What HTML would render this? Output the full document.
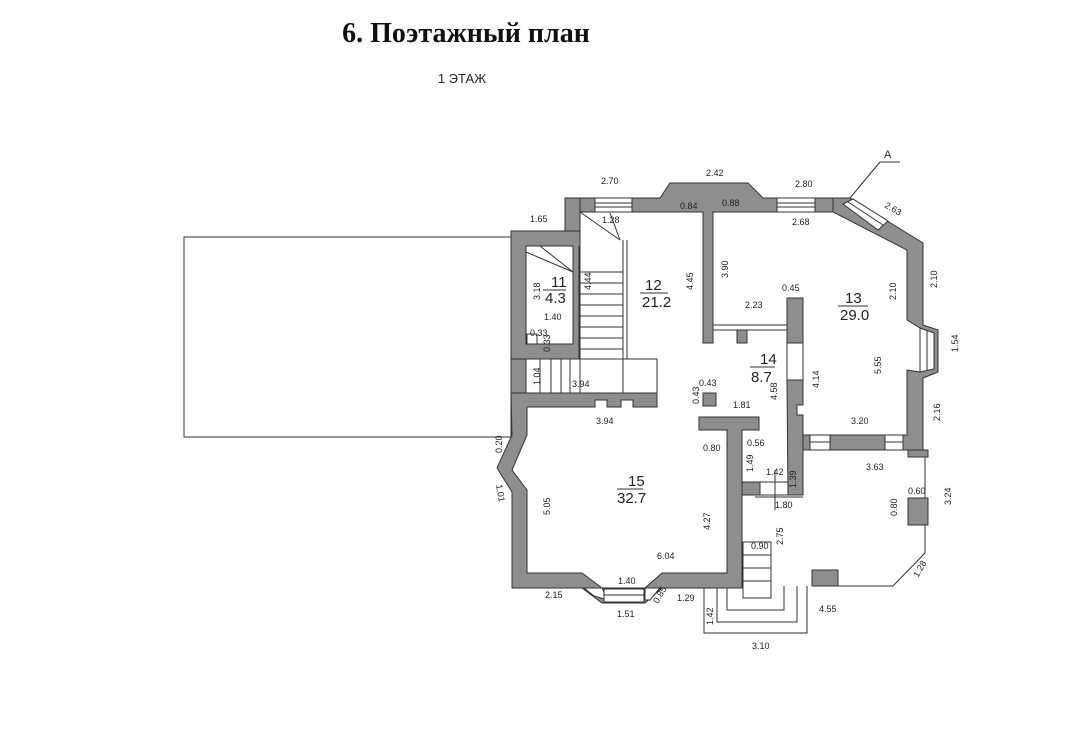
<!DOCTYPE html>
<html><head><meta charset="utf-8"><style>
html,body{margin:0;padding:0;background:#fff;}
svg{display:block}
.w{fill:#8e8e8e;stroke:#333;stroke-width:1}
.l{fill:none;stroke:#333;stroke-width:1}
.wh{fill:#fff;stroke:#333;stroke-width:1}
text{font-family:"Liberation Sans",sans-serif;font-size:9px;fill:#222}
.big{font-size:15px}
</style></head><body>
<svg width="1080" height="741" viewBox="0 0 1080 741">
<text x="466" y="42" text-anchor="middle" style="font-family:'Liberation Serif',serif;font-weight:bold;font-size:28px;fill:#111">6. Поэтажный план</text>
<text x="462" y="83" text-anchor="middle" style="font-size:13px;fill:#222">1 ЭТАЖ</text>

<!-- left big rectangle -->
<rect x="184" y="237" width="327" height="200" class="l"/>

<!-- room 11 walls -->
<path class="w" d="M511 231 H580 V359 H511 Z M526 246 V344 H573 V246 Z" fill-rule="evenodd"/>
<path class="w" d="M565 198 H580 V231 H565 Z"/>
<rect class="wh" x="527" y="334" width="10" height="10"/>
<rect class="w" x="511" y="359" width="15" height="34"/>
<!-- top wall of 12 -->
<path class="w" d="M565 198 H660 L670 183 H748 L763 198 H833 V212 H713 V343 H703 V212 H580 V198 Z"/>
<rect class="wh" x="595" y="198" width="37" height="14"/>
<line class="l" x1="595" y1="203" x2="632" y2="203"/><line class="l" x1="595" y1="207" x2="632" y2="207"/>
<rect class="wh" x="777" y="198" width="38" height="14"/>
<line class="l" x1="777" y1="203" x2="815" y2="203"/><line class="l" x1="777" y1="207" x2="815" y2="207"/>
<!-- diagonal + right wall of 13 -->
<path class="w" d="M833 198 H850 L923 243 V325 L938 330 V372 L923 378 V450 H803 V435 H907 V370 L920 372 V328 L907 320 V250 L833 212 Z"/>
<polygon class="wh" points="843,204 853,199 888,221 878,230"/>
<line class="l" x1="848" y1="202" x2="883" y2="225"/>
<polygon class="wh" points="920,328 934,333 934,369 920,372"/>
<line class="l" x1="927" y1="331" x2="927" y2="370"/>
<rect class="wh" x="810" y="435" width="20" height="15"/><line class="l" x1="810" y1="442" x2="830" y2="442"/>
<rect class="wh" x="885" y="435" width="18" height="15"/><line class="l" x1="885" y1="442" x2="903" y2="442"/>
<rect class="w" x="908" y="450" width="20" height="7"/>
<!-- partitions 13/14 -->
<rect class="w" x="787" y="298" width="16" height="45"/>
<rect class="wh" x="787" y="343" width="16" height="37"/>
<path class="w" d="M787 380 H803 V405 H797 V415 H803 V495 H788 Z"/>
<rect class="l" x="713" y="325" width="74" height="5"/>
<rect class="w" x="737" y="330" width="10" height="13"/>
<!-- stairs 12 -->
<line class="l" x1="579" y1="246" x2="579" y2="359"/>
<line class="l" x1="627" y1="240" x2="627" y2="359"/>
<line class="l" x1="623" y1="240" x2="623" y2="359"/>
<line class="l" x1="580" y1="212" x2="620" y2="240"/>
<line class="l" x1="610" y1="213" x2="620" y2="240"/>
<line class="l" x1="526" y1="252" x2="573" y2="272"/>
<line class="l" x1="540" y1="246" x2="573" y2="272"/>
<g class="l">
<line x1="580" y1="272" x2="623" y2="272"/><line x1="580" y1="283" x2="623" y2="283"/><line x1="580" y1="294" x2="623" y2="294"/><line x1="580" y1="305" x2="623" y2="305"/><line x1="580" y1="316" x2="623" y2="316"/><line x1="580" y1="327" x2="623" y2="327"/><line x1="580" y1="338" x2="623" y2="338"/><line x1="580" y1="349" x2="623" y2="349"/>
</g>
<!-- landing -->
<rect class="l" x="511" y="359" width="146" height="34"/>
<g class="l"><line x1="526" y1="359" x2="526" y2="393"/><line x1="540" y1="359" x2="540" y2="393"/><line x1="551" y1="359" x2="551" y2="393"/><line x1="561" y1="359" x2="561" y2="393"/><line x1="570" y1="359" x2="570" y2="393"/><line x1="580" y1="359" x2="580" y2="393"/><line x1="623" y1="359" x2="623" y2="393"/></g>
<!-- room 15 -->
<path class="w" d="M511 393 H657 V407 H633 V400 H621 V407 H607 V400 H595 V407 H527 V435 L512 470 L527 490 V573 H582 L602 588 H645 L662 573 H727 V430 H699 V417 H759 V430 H742 V588 H662 L645 603 H602 L582 588 H512 V492 L497 468 L512 435 Z"/>
<polygon class="wh" points="584,588 602,588 608,600 594,596"/>
<rect class="wh" x="604" y="589" width="40" height="13"/><line class="l" x1="604" y1="595" x2="644" y2="595"/>
<polygon class="wh" points="645,588 660,588 650,600 645,600"/>
<rect class="w" x="703" y="393" width="13" height="13"/>
<!-- small block -->
<rect class="w" x="742" y="482" width="18" height="13"/>
<rect class="l" x="760" y="482" width="28" height="13"/>
<line class="l" x1="755" y1="497" x2="803" y2="497"/>
<line class="l" x1="775" y1="470" x2="775" y2="510"/>
<!-- right lower area -->
<path class="l" d="M925 457 V553 L893 586 H838"/>
<rect class="w" x="812" y="570" width="26" height="16"/>
<rect class="w" x="908" y="498" width="20" height="27"/>
<!-- porch -->
<rect class="l" x="743" y="542" width="28" height="56"/>
<g class="l"><line x1="743" y1="555" x2="771" y2="555"/><line x1="743" y1="568" x2="771" y2="568"/><line x1="743" y1="581" x2="771" y2="581"/></g>
<path class="l" d="M704 588 V633 H807 V586"/>
<path class="l" d="M717 588 V622 H797 V586"/>
<path class="l" d="M727 588 V610 H784 V586"/>
<!-- A line -->
<line class="l" x1="850" y1="198" x2="880" y2="162"/><line class="l" x1="880" y1="162" x2="900" y2="162"/>
<text x="884" y="158" style="font-size:11px">A</text>

<!-- labels -->
<text x="601" y="184">2.70</text><text x="706" y="176">2.42</text><text x="795" y="187">2.80</text>
<text x="530" y="222">1.65</text><text x="602" y="223">1.28</text><text x="680" y="209">0.84</text><text x="722" y="206">0.88</text>
<text x="792" y="225">2.68</text><text transform="translate(884,207) rotate(30)">2.63</text>
<text x="551" y="287" class="big">11</text><line class="l" x1="543" y1="290" x2="566" y2="290"/><text x="545" y="303" class="big">4.3</text>
<text x="645" y="290" class="big">12</text><line class="l" x1="640" y1="293" x2="668" y2="293"/><text x="642" y="307" class="big">21.2</text>
<text x="845" y="303" class="big">13</text><line class="l" x1="838" y1="306" x2="868" y2="306"/><text x="840" y="320" class="big">29.0</text>
<text x="760" y="364" class="big">14</text><line class="l" x1="750" y1="367" x2="775" y2="367"/><text x="751" y="382" class="big">8.7</text>
<text x="628" y="486" class="big">15</text><line class="l" x1="617" y1="489" x2="643" y2="489"/><text x="617" y="503" class="big">32.7</text>
<text x="544" y="320">1.40</text><text x="530" y="336">0.33</text>
<text transform="translate(540,300) rotate(-90)">3.18</text><text transform="translate(591,290) rotate(-90)">4.44</text>
<text transform="translate(693,290) rotate(-90)">4.45</text><text transform="translate(728,278) rotate(-90)">3.90</text>
<text transform="translate(550,352) rotate(-90)">0.33</text><text transform="translate(540,385) rotate(-90)">1.04</text>
<text x="572" y="387">3.94</text><text x="596" y="424">3.94</text>
<text x="745" y="308">2.23</text><text x="782" y="291">0.45</text>
<text transform="translate(896,300) rotate(-90)">2.10</text><text transform="translate(937,288) rotate(-90)">2.10</text>
<text transform="translate(958,352) rotate(-90)">1.54</text><text transform="translate(881,374) rotate(-90)">5.55</text>
<text transform="translate(819,388) rotate(-90)">4.14</text><text transform="translate(777,400) rotate(-90)">4.58</text>
<text transform="translate(940,421) rotate(-90)">2.16</text><text x="851" y="424">3.20</text>
<text x="699" y="386">0.43</text><text transform="translate(699,404) rotate(-90)">0.43</text>
<text x="733" y="408">1.81</text><text x="703" y="451">0.80</text><text x="747" y="446">0.56</text>
<text transform="translate(753,472) rotate(-90)">1.49</text><text x="766" y="475">1.42</text>
<text x="775" y="508">1.80</text><text transform="translate(796,488) rotate(-90)">1.39</text>
<text x="866" y="470">3.63</text><text x="908" y="494">0.60</text>
<text transform="translate(897,516) rotate(-90)">0.80</text><text transform="translate(951,505) rotate(-90)">3.24</text>
<text transform="translate(502,453) rotate(-90)">0.20</text><text transform="translate(496,485) rotate(80)">1.01</text>
<text transform="translate(550,515) rotate(-90)">5.05</text><text transform="translate(710,530) rotate(-90)">4.27</text>
<text x="657" y="559">6.04</text><text x="618" y="584">1.40</text><text x="545" y="598">2.15</text>
<text x="617" y="617">1.51</text><text transform="translate(658,604) rotate(-60)">0.85</text><text x="677" y="601">1.29</text>
<text x="751" y="549">0.90</text><text transform="translate(783,545) rotate(-90)">2.75</text>
<text transform="translate(713,625) rotate(-90)">1.42</text><text x="819" y="612">4.55</text>
<text x="752" y="649">3.10</text><text transform="translate(918,578) rotate(-60)">1.28</text>
</svg>
</body></html>
